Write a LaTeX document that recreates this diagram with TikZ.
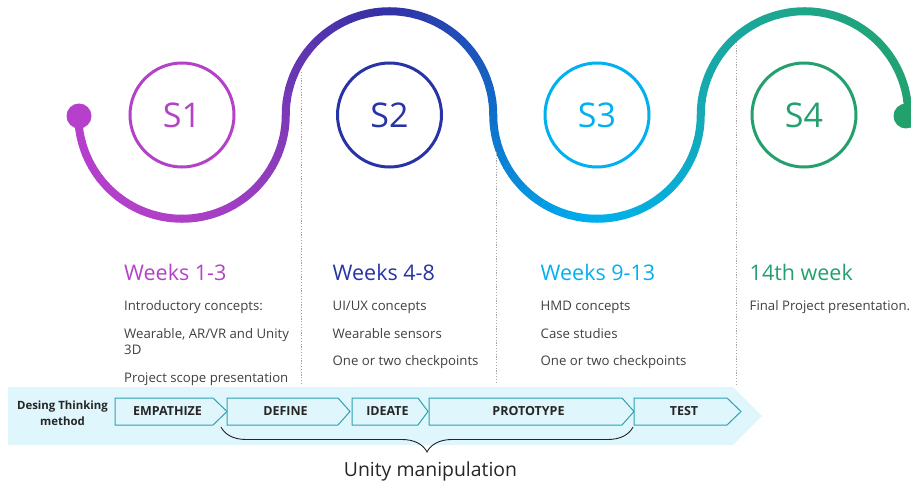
\documentclass[tikz,border=0pt]{standalone}
\usepackage{fontspec}
\setmainfont{Open Sans}
\usetikzlibrary{decorations.pathreplacing}

% stage colours
\definecolor{cPurple}{HTML}{B342C9}
\definecolor{cNavy}{HTML}{2733A6}
\definecolor{cCyan}{HTML}{00B0F0}
\definecolor{cGreen}{HTML}{24A06E}
% colour stops along the wave
\definecolor{wA}{HTML}{B63FCB}
\definecolor{wB}{HTML}{B040C8}
\definecolor{wC}{HTML}{7E3AB8}
\definecolor{wD}{HTML}{3330A5}
\definecolor{wE}{HTML}{0F6DC9}
\definecolor{wF}{HTML}{00B0EE}
\definecolor{wG}{HTML}{14AAB8}
\definecolor{wH}{HTML}{1EA68A}
\definecolor{wI}{HTML}{22A16C}
% other colours
\definecolor{bodygray}{HTML}{404040}
\definecolor{band}{HTML}{DFF6FC}
\definecolor{chevline}{HTML}{2EA3AE}
\definecolor{darktext}{HTML}{262626}
\definecolor{sepgray}{HTML}{A6A6A6}

% one quarter of the wave, shaded from colour #4 to colour #5
\newcommand{\wavepart}[5]{%
  \foreach \k in {0,...,11}{%
    \pgfmathsetmacro{\ta}{#2+(#3-#2)*\k/12}%
    \pgfmathsetmacro{\tb}{#2+(#3-#2)*(\k+1)/12}%
    \pgfmathtruncatemacro{\pc}{100-(2*\k+1)*100/24}%
    \draw[wave, draw=#4!\pc!#5] (#1,-115) ++(\ta:103.75)
      arc[start angle=\ta, end angle=\tb, radius=103.75];
  }%
}

\begin{document}
\begin{tikzpicture}[x=1pt, y=1pt,
  wave/.style={line width=8, line cap=round},
  stage/.style={circle, draw=#1, line width=3, minimum size=104,
    inner sep=0, text=#1, font=\fontsize{34}{34}\selectfont},
  heading/.style={anchor=base west, inner sep=0, text=#1,
    font=\fontsize{21.5}{24}\selectfont},
  body/.style={anchor=base west, inner sep=0, text=bodygray,
    font=\fontsize{13.2}{16}\selectfont},
  sep/.style={draw=sepgray, line width=0.7, dash pattern=on 1.2 off 1.6},
  chev/.style={draw=chevline, fill=band, line width=1},
  boxtext/.style={inner sep=0, text=darktext,
    font=\bfseries\fontsize{12.5}{14}\selectfont},
]
\useasboundingbox (0,0) rectangle (911,-481);

% ---- wave ----
\wavepart{182}{180}{270}{wA}{wB}
\wavepart{182}{270}{360}{wB}{wC}
\wavepart{389.5}{180}{90}{wC}{wD}
\wavepart{389.5}{90}{0}{wD}{wE}
\wavepart{597}{180}{270}{wE}{wF}
\wavepart{597}{270}{360}{wF}{wG}
\wavepart{804.5}{180}{90}{wG}{wH}
\wavepart{804.5}{90}{0}{wH}{wI}
\fill[wA] (79,-116) circle (12.5);
\fill[wI] (906,-116) circle (12.5);

% ---- stage circles ----
\node[stage=cPurple] (s1) at (182,-115) {S1};
\node[stage=cNavy]   (s2) at (389.5,-115) {S2};
\node[stage=cCyan]   (s3) at (597,-115) {S3};
\node[stage=cGreen]  (s4) at (804,-115) {S4};

% ---- column separators ----
\coordinate (d1t) at (301,-72);  \coordinate (d1b) at (301,-384);
\coordinate (d2t) at (496.5,-152); \coordinate (d2b) at (496.5,-384);
\coordinate (d3t) at (736,-42);  \coordinate (d3b) at (736,-384);
\draw[sep] (d1t) -- (d1b);
\draw[sep] (d2t) -- (d2b);
\draw[sep] (d3t) -- (d3b);

% ---- column texts ----
\node[heading=cPurple] (h1) at (124,-281) {Weeks 1-3};
\node[body] (t11) at (124,-311) {Introductory concepts:};
\node[body] (t12) at (124,-338) {Wearable, AR/VR and Unity};
\node[body] (t13) at (124,-354) {3D};
\node[body] (t14) at (124,-382.5) {Project scope presentation};

\node[heading=cNavy] (h2) at (332.5,-281) {Weeks 4-8};
\node[body] (t21) at (332.5,-311) {UI/UX concepts};
\node[body] (t22) at (332.5,-338) {Wearable sensors};
\node[body] (t23) at (332.5,-365.5) {One or two checkpoints};

\node[heading=cCyan] (h3) at (540.5,-281) {Weeks 9-13};
\node[body] (t31) at (540.5,-311) {HMD concepts};
\node[body] (t32) at (540.5,-338) {Case studies};
\node[body] (t33) at (540.5,-365.5) {One or two checkpoints};

\node[heading=cGreen] (h4) at (749.5,-281) {14th week};
\node[body] (t41) at (749.5,-311) {Final Project presentation.};

% ---- design thinking band ----
\fill[band] (8,-387) -- (733,-387) -- (762,-416) -- (733,-445) -- (8,-445) -- cycle;
\node[align=center, inner sep=0, text=darktext,
  font=\bfseries\fontsize{11.4}{15.5}\selectfont] (dtm) at (62.5,-413) {Desing Thinking\\method};

\draw[chev] (115,-398) -- (213,-398) -- (227,-411.5) -- (213,-425) -- (115,-425) -- cycle;
\draw[chev] (227,-398) -- (338,-398) -- (350,-411.5) -- (338,-425) -- (227,-425) -- cycle;
\draw[chev] (352,-398) -- (418,-398) -- (428,-411.5) -- (418,-425) -- (352,-425) -- cycle;
\draw[chev] (429,-398) -- (622,-398) -- (634,-411.5) -- (622,-425) -- (429,-425) -- cycle;
\draw[chev] (634,-398) -- (727,-398) -- (741,-411.5) -- (727,-425) -- (634,-425) -- cycle;
\node[boxtext] (emp) at (167.5,-411.5) {EMPATHIZE};
\node[boxtext] (def) at (285.5,-411.5) {DEFINE};
\node[boxtext] (ide) at (387.5,-411.5) {IDEATE};
\node[boxtext] (pro) at (528.5,-411.5) {PROTOTYPE};
\node[boxtext] (tst) at (684,-411.5) {TEST};

% ---- unity brace ----
\coordinate (bl) at (221,-427);
\coordinate (br) at (633,-427);
\draw[darktext, line width=0.9, decorate,
  decoration={brace, mirror, amplitude=25}] (bl) -- (br);
\node[anchor=base, inner sep=0, text=darktext,
  font=\fontsize{19.4}{22}\selectfont] (unity) at (430.5,-476) {Unity manipulation};
\end{tikzpicture}
\end{document}
